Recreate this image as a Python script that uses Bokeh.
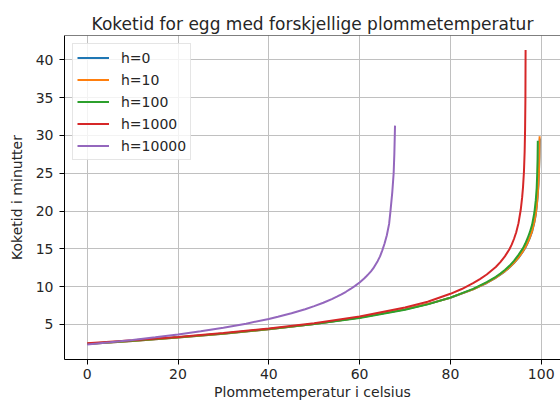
from bokeh.plotting import figure
from bokeh.models import Range1d, FixedTicker, Legend, LegendItem, Span
from bokeh.embed import file_html
from bokeh.resources import INLINE

# ---- data ----
title_text = "Koketid for egg med forskjellige plommetemperatur"
x_label = "Plommetemperatur i celsius"
y_label = "Koketid i minutter"
labels = ["h=0", "h=10", "h=100", "h=1000", "h=10000"]
colors = ["#1f77b4", "#ff7f0e", "#2ca02c", "#d62728", "#9467bd"]

temp_h0 = [0, 10, 20, 30, 40, 50, 60, 70, 75, 80, 85, 88, 90, 91, 92, 93, 94, 95, 96, 96.5, 97, 97.5, 98, 98.5, 98.8, 99, 99.2, 99.4, 99.5, 99.6, 99.68]
time_h0 = [2.42, 2.82, 3.27, 3.77, 4.36, 5.05, 5.90, 6.99, 7.69, 8.53, 9.63, 10.48, 11.17, 11.58, 12.02, 12.52, 13.11, 13.80, 14.65, 15.15, 15.74, 16.45, 17.28, 18.5, 19.5, 20.5, 21.8, 23.6, 25.0, 27.1, 29.6]

temp_h10 = [0, 10, 20, 30, 40, 50, 60, 70, 75, 80, 85, 88, 90, 91, 92, 93, 94, 95, 96, 96.5, 97, 97.5, 98, 98.5, 98.8, 99, 99.2, 99.4, 99.5, 99.6, 99.65]
time_h10 = [2.42, 2.82, 3.27, 3.77, 4.36, 5.05, 5.90, 6.99, 7.69, 8.54, 9.64, 10.5, 11.19, 11.6, 12.05, 12.55, 13.14, 13.84, 14.70, 15.2, 15.80, 16.5, 17.35, 18.6, 19.6, 20.6, 21.9, 23.7, 25.2, 27.3, 29.9]

temp_h100 = [0, 10, 20, 30, 40, 50, 60, 70, 75, 80, 85, 88, 90, 91, 92, 93, 94, 95, 96, 96.5, 97, 97.5, 98, 98.5, 98.8, 99, 99.1, 99.2, 99.25]
time_h100 = [2.43, 2.85, 3.30, 3.80, 4.40, 5.07, 5.85, 6.95, 7.65, 8.55, 9.70, 10.6, 11.3, 11.72, 12.2, 12.75, 13.4, 14.2, 15.1, 15.7, 16.4, 17.2, 18.2, 19.8, 21.4, 23.0, 24.6, 26.8, 29.3]

temp_h1000 = [0, 10, 20, 30, 40, 50, 60, 70, 75, 80, 82.5, 85, 86.5, 88, 89, 90, 91, 92, 93, 93.5, 94, 94.5, 95, 95.5, 95.8, 96, 96.2, 96.35, 96.45, 96.52, 96.56]
time_h1000 = [2.50, 2.90, 3.35, 3.85, 4.45, 5.15, 6.05, 7.25, 8.0, 9.05, 9.68, 10.45, 11.0, 11.6, 12.1, 12.6, 13.25, 14.0, 14.95, 15.55, 16.3, 17.2, 18.4, 20.2, 21.8, 23.2, 25.2, 27.8, 30.8, 34.8, 41.3]

temp_h10000 = [0, 5, 10, 15, 20, 25, 30, 35, 40, 42, 45, 48, 50, 52, 54, 55, 56, 57, 58, 59, 60, 61, 61.5, 62, 62.5, 63, 63.5, 64, 64.5, 65, 65.5, 66, 66.5, 66.8, 67.2, 67.5, 67.65, 67.75, 67.8]
time_h10000 = [2.34, 2.63, 2.94, 3.29, 3.66, 4.09, 4.56, 5.10, 5.73, 6.01, 6.48, 7.01, 7.42, 7.87, 8.39, 8.67, 8.98, 9.32, 9.69, 10.10, 10.55, 11.08, 11.37, 11.68, 12.02, 12.4, 12.9, 13.4, 14.0, 14.8, 15.7, 16.8, 18.3, 20.0, 22.5, 25.0, 27.5, 30.0, 31.3]

x_ticks = [0, 20, 40, 60, 80, 100]
y_ticks = [5, 10, 15, 20, 25, 30, 35, 40]

series_t = [temp_h0, temp_h10, temp_h100, temp_h1000, temp_h10000]
series_v = [time_h0, time_h10, time_h100, time_h1000, time_h10000]

FONT = "DejaVu Sans"
TXT = "#262626"

p = figure(width=560, height=403, output_backend="svg", toolbar_location=None,
           x_range=Range1d(-5, 104.25), y_range=Range1d(0.36, 43.22),
           min_border_left=64, min_border_right=0, min_border_top=35, min_border_bottom=44,
           title=title_text)
p.background_fill_color = "white"
p.border_fill_color = "white"
p.outline_line_color = None

p.title.text_font = FONT
p.title.text_font_size = "17px"
p.title.text_font_style = "normal"
p.title.text_color = TXT
p.title.align = "center"
p.title.standoff = 3

for ax in (p.xaxis[0], p.yaxis[0]):
    ax.axis_line_color = "black"
    ax.axis_line_width = 1
    ax.major_tick_line_color = "black"
    ax.major_tick_out = 5
    ax.major_tick_in = 0
    ax.minor_tick_line_color = None
    ax.major_label_text_font = FONT
    ax.major_label_text_font_size = "14px"
    ax.major_label_text_color = TXT
    ax.axis_label_text_font = FONT
    ax.axis_label_text_font_size = "14px"
    ax.axis_label_text_font_style = "normal"
    ax.axis_label_text_color = TXT

p.xaxis.axis_label = x_label
p.yaxis.axis_label = y_label
p.xaxis.major_label_standoff = 4
p.xaxis.axis_label_standoff = 2
p.yaxis.major_label_standoff = 6
p.yaxis.axis_label_standoff = 8

p.xaxis.ticker = FixedTicker(ticks=x_ticks)
p.yaxis.ticker = FixedTicker(ticks=y_ticks)

p.xgrid.ticker = FixedTicker(ticks=x_ticks)
p.ygrid.ticker = FixedTicker(ticks=y_ticks)
p.grid.grid_line_color = "#c0c0c0"
p.grid.grid_line_width = 1

# top spine
p.add_layout(Span(location=43.22, dimension="width", line_color="black", line_width=1))

renderers = []
for tx, tv, c in zip(series_t, series_v, colors):
    r = p.line(tx, tv, line_color=c, line_width=2)
    renderers.append(r)

legend = Legend(items=[LegendItem(label=l, renderers=[r]) for l, r in zip(labels, renderers)],
                location="top_left")
legend.margin = 8
legend.padding = 4
legend.spacing = 3
legend.label_height = 19
legend.glyph_height = 19
legend.glyph_width = 32
legend.label_standoff = 12
legend.label_text_font = FONT
legend.label_text_font_size = "14px"
legend.label_text_color = TXT
legend.border_line_color = "#cccccc"
legend.border_line_width = 1
legend.background_fill_color = "white"
legend.background_fill_alpha = 0.8
p.add_layout(legend)

open("out.html", "w").write(file_html(p, INLINE))
